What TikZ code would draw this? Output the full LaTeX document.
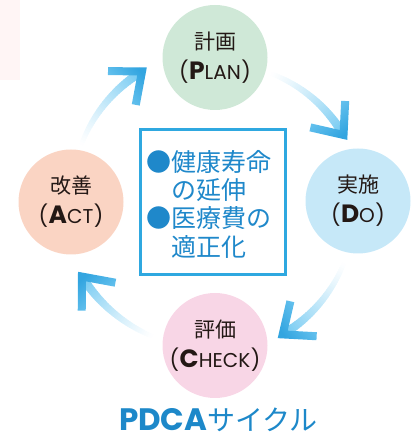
\documentclass[tikz,border=0pt]{standalone}
\usepackage{fontspec}
\setmainfont{Poppins}
\newfontfamily\cjk{Noto Sans CJK JP}
\usetikzlibrary{calc}
\definecolor{ink}{HTML}{231815}
\definecolor{planc}{HTML}{CFE8D7}
\definecolor{doc}{HTML}{C6E8F8}
\definecolor{checkc}{HTML}{F8D6E6}
\definecolor{actc}{HTML}{FAD4C3}
\definecolor{boxblue}{HTML}{2FA8E0}
\definecolor{textblue}{HTML}{1F88CA}
\definecolor{titleblue}{HTML}{1D88C9}
\definecolor{shaftblue}{HTML}{6CC7F1}
\definecolor{headlight}{HTML}{78CCF3}
\definecolor{headdark}{HTML}{33A5E0}
\definecolor{faintpink}{HTML}{FFF5F5}
\newcommand\pdcaword[2]{{\fontsize{21}{21}\selectfont(\kern0.5pt}{\bfseries\fontsize{25}{25}\selectfont #1}{\fontsize{20}{20}\selectfont #2}{\fontsize{21}{21}\selectfont\kern0.5pt)}}
\tikzset{
  phase/.style={circle, minimum size=105pt, inner sep=0pt, draw=none},
  jplabel/.style={font=\cjk\fontsize{21}{21}\selectfont, text=ink, anchor=base, inner sep=0pt},
  enlabel/.style={text=ink, anchor=base, inner sep=0pt},
  goalline/.style={font=\cjk\fontsize{25}{25}\selectfont, text=textblue, anchor=base west, inner sep=0pt},
}
\newcommand\cyclearrow[4]{%
  \foreach \i in {0,...,39}{%
    \pgfmathsetmacro\ua{\i/40}%
    \pgfmathsetmacro\ub{min((\i+1.25)/40,1)}%
    \pgfmathsetmacro\aA{#1+(#2-#1)*\ua}%
    \pgfmathsetmacro\aB{#1+(#2-#1)*\ub}%
    \pgfmathsetmacro\rA{#3+(#4-#3)*\ua}%
    \pgfmathsetmacro\rB{#3+(#4-#3)*\ub}%
    \pgfmathsetmacro\pc{100*(\ua^1.3)}%
    \pgfmathsetmacro\lw{4.5+4.5*\ua}%
    \draw[line width=\lw pt, shaftblue!\pc!white] ($(O)+(\aA:\rA)$) -- ($(O)+(\aB:\rB)$);
  }%
  \coordinate (P) at ($(O)+(#2:#4)$);
  \pgfmathsetmacro\bk{#2+100}%
  \pgfmathsetmacro\sa{#2-80+90}%
  \shade[top color=headlight, bottom color=headdark, shading angle=\sa]
    ($(P)+(\bk+40:34)+(\bk+130:4)$) -- ($(P)+(\bk+180:6.22)$) --
    ($(P)+(\bk-40:34)+(\bk-130:4)$) -- ($(P)+(\bk-40:34)+(\bk+50:4)$) --
    ($(P)+(\bk:6.22)$) -- ($(P)+(\bk+40:34)+(\bk-50:4)$) -- cycle;
}
\begin{document}
\begin{tikzpicture}[x=1pt,y=1pt]
\useasboundingbox (0,0) rectangle (411,439);
\fill[faintpink] (0,359) rectangle (20,439);
\coordinate (O) at (215,238);
% circles
\node[phase, fill=planc] (plan) at (215,381.5) {};
\node[phase, fill=doc] (do) at (358,238) {};
\node[phase, fill=checkc] (check) at (215,93.5) {};
\node[phase, fill=actc] (act) at (71,237) {};
% labels
\node[jplabel] (plan1) at ($(plan)+(0,8)$) {計画};
\node[enlabel] (plan2) at ($(plan)+(0,-22)$) {\pdcaword{P}{LAN}};
\node[jplabel] (do1) at ($(do)+(0,8)$) {実施};
\node[enlabel] (do2) at ($(do)+(0,-22)$) {\pdcaword{D}{O}};
\node[jplabel] (check1) at ($(check)+(0,8)$) {評価};
\node[enlabel] (check2) at ($(check)+(0,-22)$) {\pdcaword{C}{HECK}};
\node[jplabel] (act1) at ($(act)+(0,8)$) {改善};
\node[enlabel] (act2) at ($(act)+(0,-22)$) {\pdcaword{A}{CT}};
% arrows
\cyclearrow{158}{119.4}{145}{148.7}
\cyclearrow{67}{27.2}{139}{144.5}
\cyclearrow{-25}{-63.1}{143}{149.6}
\cyclearrow{246}{209.6}{149}{153}
% goal box
\node[draw=boxblue, line width=3pt, minimum width=145pt, minimum height=145pt, inner sep=0pt] (goal) at (213,237) {};
\node[goalline] (g1) at (146,267.5) {●健康寿命};
\node[goalline] (g2) at (171,239.5) {の延伸};
\node[goalline] (g3) at (146,211.5) {●医療費の};
\node[goalline] (g4) at (171,182.5) {適正化};
% title
\node[anchor=base, inner sep=0pt, text=titleblue] (title) at (218.5,8.5) {{\bfseries\fontsize{31}{31}\selectfont PDCA}{\cjk\fontsize{28}{28}\selectfont サイクル}};
\end{tikzpicture}
\end{document}
